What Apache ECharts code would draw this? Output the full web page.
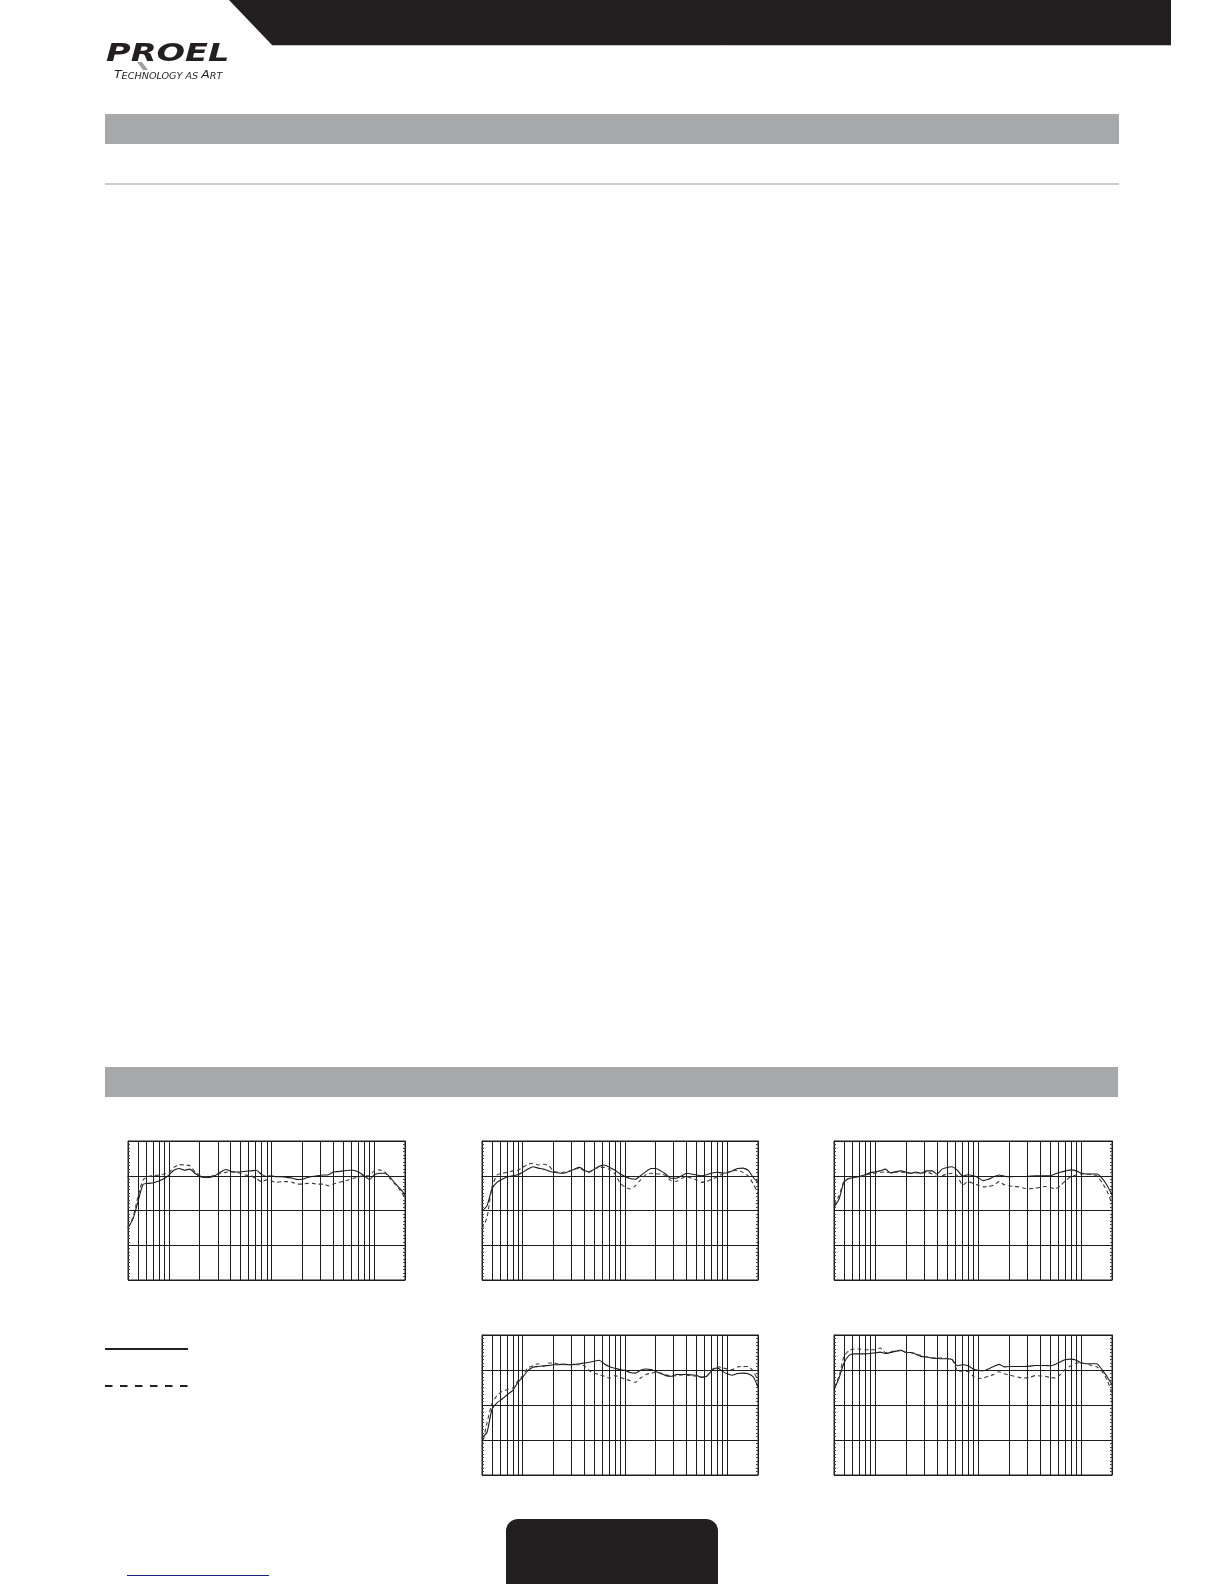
<!DOCTYPE html>
<html><head><meta charset="utf-8">
<script src="https://cdn.jsdelivr.net/npm/echarts@6/dist/echarts.min.js"></script>
<style>html,body{margin:0;padding:0;background:#fff}#c{width:1224px;height:1584px}</style>
</head><body><div id="c"></div><script>
// Frequency points (Hz) at which the curves were read
const freqs = [20,22.4,25,28,31.5,35.5,40,45,50,56,63,71,80,90,100,112,125,140,160,180,200,224,250,280,315,355,400,450,500,560,630,710,800,900,1000,1120,1250,1400,1600,1800,2000,2240,2500,2800,3150,3550,4000,4500,5000,5600,6300,7100,8000,9000,10000];
// Vertical grid line frequencies (Hz)
const gridFreqs = [25,30,35,40,45,50,100,150,200,250,300,350,400,450,500,1000,1500,2000,2500,3000,3500,4000,4500,5000];
// dB scale
const dbMin = -30, dbMax = 10, dbStep = 10;

const s1 = [-15,-12.4,-7.5,-2.5,-2.2,-2.0,-1.5,-0.8,0.2,1.6, 2.1,1.6,1.9,0.7,-0.2,-0.5,-0.5,0,1.1,1.8, 1.3,1.1,1.1,1.3,1.4,1.6,0.4,-0.2,0,-0.3, -0.3,-0.5,-0.7,-1.1,-1.0,-0.5,-0.2,0,0.2,0.3, 1.1,1.2,1.4,1.6,1.6,1.0,0,-1.1,0.2,0.7, 0.7,-0.3,-2.2,-3.8,-5.5];
const d1 = [-14.8,-12,-6,-1.2,-0.2,0,0.2,0.5,0.9,2.4, 3.2,3.1,2.9,1.1,0.2,-0.3,-0.3,0.2,0.7,1.0, 1.1,1.0,0.7,0.2,0,-0.8,-1.7,-1.2,-1.5,-1.9, -1.7,-1.7,-1.9,-2.4,-2.4,-2.2,-2.2,-2.4,-2.4,-2.9, -2.4,-2.0,-1.6,-1.2,-0.7,-0.3,0,0,1.4,1.7, 1.2,-0.7,-2.4,-4.3,-6.4];
const s2 = [-10.2,-8.6,-3.8,-1.9,-1.0,-0.3,0,0.3,1.0,1.9, 2.6,2.2,1.9,1.4,1.0,0.8,0.7,1.2,1.9,2.4, 1.6,1.0,1.9,2.7,3.1,2.4,1.6,0.5,-0.2,-0.8, -1.0,0,1.2,2.1,2.1,1.4,0.5,-0.7,-0.7,0, 0.7,0.5,0.2,0,0.3,0.8,1.0,0.8,0.8,1.4, 2.1,2.2,1.6,-0.5,-1.9];
const d2 = [-15.3,-12,-3.3,0.2,0.7,1.0,1.4,1.6,2.4,3.3, 3.6,3.1,3.3,2.9,1.4,1.0,1.0,1.2,1.9,2.1, 1.4,1.2,1.9,2.4,2.4,1.7,0.5,-2.2,-3.2,-3.8, -2.9,-1.2,0.3,0.7,0.5,0.5,0,-1.4,-1.6,-0.7, -0.3,-0.7,-1.2,-1.9,-1.6,-1.0,-0.3,0.5,1.0,1.4, 1.6,1.0,0,-2.4,-5.1];
const s3 = [-9.1,-6.7,-1.9,-0.8,-0.5,-0.2,0.3,0.9,1.1,1.4, 1.9,0.8,1.2,1.4,1.0,0.7,1.1,0.7,1.4,1.4, 0.5,1.9,2.4,2.6,1.6,-0.1,0.3,0,-0.5,-1.4, -1.0,-0.3,0.2,-0.1,-0.3,-0.2,-0.2,-0.2,-0.1,0, 0,0,0,0.5,1.0,1.4,1.7,1.4,0.8,0.5, 0.5,0.5,-0.7,-2.9,-5.5];
const d3 = [-8.3,-5.7,-1.6,-0.7,-0.5,-0.2,0.2,0.5,0.8,1.0, 1.1,0.9,1.0,1.0,0.9,0.7,0.8,0.8,1.0,0.5, -0.2,0,0.5,0.7,0,-2.7,-1.7,-2.2,-2.7,-3.2, -3.1,-2.7,-1.7,-2.6,-2.9,-3.1,-3.2,-3.6,-3.7,-3.6, -3.3,-3.1,-3.3,-3.8,-2.9,-1.4,-0.3,0.2,0.5,0.5, 0.3,0,-1.9,-4.6,-8.1];
const s4 = [-19.4,-17.8,-11.3,-9.4,-8.3,-7.0,-5.8,-3.5,-2.1,-0.2, 0.8,1.0,1.2,1.3,1.5,1.5,1.7,1.5,1.6,1.8, 2.0,2.2,2.5,2.8,1.7,0.9,0.5,0.1,-0.1,-0.7, -0.9,-0.1,0.3,0.1,-0.4,-1.0,-1.6,-1.8,-1.3,-1.3, -1.3,-1.4,-1.5,-2.1,-1.8,-0.1,0.6,-0.4,-1.1,-1.5, -1.0,-0.9,-1.1,-2.0,-4.9];
const d4 = [-21.8,-15.1,-9.6,-7.3,-6.1,-5.6,-5.1,-3.0,-1.6,0.6, 1.2,1.8,1.0,2.0,2.0,1.7,1.5,1.5,1.5,1.5, 1.2,-0.2,-0.9,-1.3,-1.8,-2.3,-1.6,-2.1,-2.6,-3.0, -3.5,-2.3,-1.3,-0.9,-0.7,-0.9,-1.3,-1.8,-1.6,-1.4, -1.5,-1.6,-1.8,-2.0,-1.8,0.1,1.0,0.6,0.3,0.1, 0.9,1.0,1.0,-0.4,-3.0];
const s5 = [-5.6,-2.3,2.0,4.2,4.6,4.6,4.6,4.7,4.9,5.1, 4.7,5.0,5.4,5.6,5.0,5.0,4.5,3.9,3.7,3.4, 3.3,3.2,3.2,3.0,1.2,1.5,1.2,0.3,-0.1,-0.2, 0.3,1.0,1.6,0.9,1.0,1.0,1.0,1.0,1.1,1.3, 1.3,1.3,1.2,1.6,2.3,3.0,3.1,2.8,2.0,1.8, 1.8,1.8,0.1,-2.0,-4.2];
const d5 = [-4.9,-1.8,3.9,5.6,6.0,6.0,5.8,5.8,5.8,6.3, 5.0,5.2,5.5,5.6,5.0,4.9,4.6,4.1,3.7,3.5, 3.4,3.4,3.3,3.0,-0.1,-0.4,-0.4,-1.8,-2.5,-2.3, -1.8,-1.3,-0.5,-1.1,-1.4,-1.8,-2.1,-2.3,-2.1,-1.6, -1.7,-1.8,-2.1,-2.3,-1.3,0.3,1.2,2.0,2.0,1.8, 1.3,0.9,-0.4,-3.0,-6.6];

const curves = [[s1,d1],[s2,d2],[s3,d3],[s4,d4],[s5,d5]];
const boxes = [
  {left:128, top:1141, width:277, height:139},
  {left:482, top:1141, width:276, height:139},
  {left:834, top:1141, width:278, height:139},
  {left:482, top:1335, width:276, height:140},
  {left:834, top:1335, width:278, height:140}
];
const INK = '#1e1c1d';

const grid = [], xAxis = [], yAxis = [], series = [];
boxes.forEach((b, i) => {
  grid.push(Object.assign({show:true, borderColor:INK, borderWidth:1, backgroundColor:'#fff'}, b));
  xAxis.push({
    type:'log', logBase:10, gridIndex:i, min:freqs[0], max:freqs[freqs.length-1],
    axisLine:{show:true, lineStyle:{color:INK, width:1}},
    axisTick:{show:false, customValues:gridFreqs},
    axisLabel:{show:false},
    splitLine:{show:true, lineStyle:{color:INK, width:1}}
  });
  const yBase = {
    type:'value', gridIndex:i, min:dbMin, max:dbMax, interval:dbStep,
    axisLine:{show:true, lineStyle:{color:INK, width:1}},
    axisTick:{show:true, inside:true, length:3, lineStyle:{color:INK}},
    minorTick:{show:true, splitNumber:10, length:2, lineStyle:{color:'#444', width:1}},
    axisLabel:{show:false}
  };
  yAxis.push(Object.assign({}, yBase, {position:'left', splitLine:{show:true, lineStyle:{color:INK, width:1}}}));
  yAxis.push(Object.assign({}, yBase, {position:'right', splitLine:{show:false}}));
  const [sv, dv] = curves[i];
  series.push({
    type:'line', xAxisIndex:i, yAxisIndex:2*i, symbol:'none', silent:true, smooth:0.2,
    lineStyle:{color:'#1a1a1a', width:1.1},
    data: freqs.map((f, k) => [f, sv[k]]), z:3
  });
  series.push({
    type:'line', xAxisIndex:i, yAxisIndex:2*i, symbol:'none', silent:true, smooth:0.2,
    lineStyle:{color:'#3c3c3c', width:1.1, type:[4,3]},
    data: freqs.map((f, k) => [f, dv[k]]), z:3
  });
});

const graphic = [
  {type:'polygon', shape:{points:[[229,0],[1171,0],[1171,45],[272,45]]}, style:{fill:'#231f20'}},
  {type:'line', shape:{x1:272, y1:45.5, x2:1171, y2:45.5}, style:{stroke:'#c8c8c8', lineWidth:1}},
  {type:'text', x:106, y:43, scaleX:1.4, style:{text:'PROEL', font:'italic bold 24px "DejaVu Sans"', fill:'#231f20', verticalAlign:'top'}},
  {type:'polygon', shape:{points:[[137,62],[142,62],[148,70],[143,70]]}, style:{fill:'#a0a0a0'}},
  {type:'text', x:114, y:70, scaleX:1.26, style:{
    text:'{a|T}{b|ECHNOLOGY AS }{a|A}{b|RT}', verticalAlign:'top', fill:'#231f20',
    rich:{a:{fontSize:11, fontStyle:'italic', fontFamily:'DejaVu Sans Condensed', fill:'#231f20'},
          b:{fontSize:8.5, fontStyle:'italic', fontFamily:'DejaVu Sans Condensed', fill:'#231f20', verticalAlign:'bottom'}}
  }},
  {type:'rect', shape:{x:105, y:114, width:1014, height:30}, style:{fill:'#a7a8aa'}},
  {type:'line', shape:{x1:105, y1:184, x2:1119, y2:184}, style:{stroke:'#9a9a9a', lineWidth:1.2}},
  {type:'rect', shape:{x:105, y:1067, width:1013, height:30}, style:{fill:'#a7a8aa'}},
  {type:'line', shape:{x1:105, y1:1349, x2:188, y2:1349}, style:{stroke:'#231f20', lineWidth:2}},
  {type:'line', shape:{x1:105, y1:1386, x2:188, y2:1386}, style:{stroke:'#231f20', lineWidth:2, lineDash:[7.5,7.5]}},
  {type:'rect', shape:{x:506, y:1519, width:212, height:90, r:[12,12,0,0]}, style:{fill:'#231f20'}},
  {type:'line', shape:{x1:127, y1:1575.5, x2:269, y2:1575.5}, style:{stroke:'#1b1f8a', lineWidth:1}}
];

const chart = echarts.init(document.getElementById('c'), null, {renderer:'canvas'});
chart.setOption({animation:false, backgroundColor:'#fff', grid, xAxis, yAxis, series, graphic});
</script></body></html>
